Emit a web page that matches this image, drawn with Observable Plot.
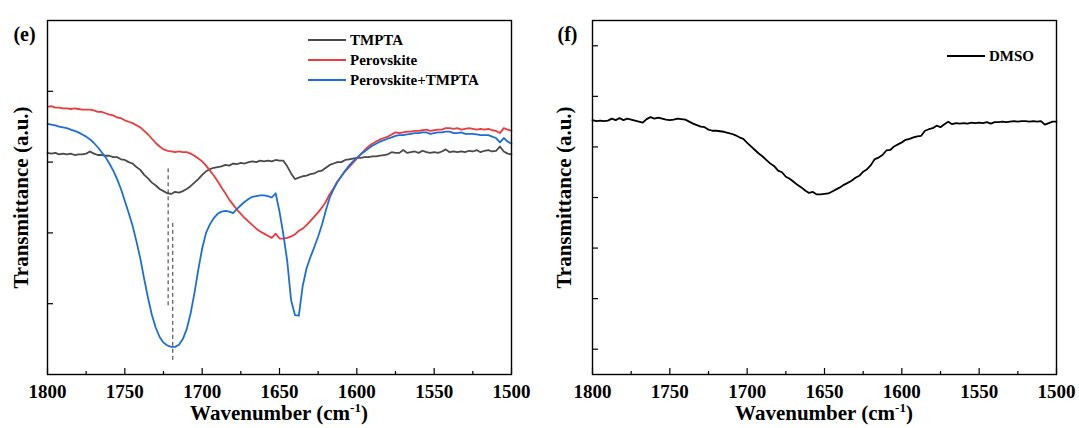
<!DOCTYPE html>
<html><head><meta charset="utf-8">
<script src="https://cdn.jsdelivr.net/npm/d3@7"></script>
<script src="https://cdn.jsdelivr.net/npm/@observablehq/plot@0.6"></script>
<style>
body{margin:0;background:#fff;}
#wrap{display:flex;width:1079px;height:428px;}
#wrap svg, #wrap svg text{font-family:"Liberation Serif","Times New Roman",serif !important;}
</style></head><body><div id="wrap"></div>
<script>
// ---- data (transmittance in arbitrary units) ----
const wavenumbers = [
1800,1797.5,1795,1792.5,1790,1787.5,1785,1782.5,1780,1777.5,
1775,1772.5,1770,1767.5,1765,1762.5,1760,1757.5,1755,1752.5,
1750,1747.5,1745,1742.5,1740,1737.5,1735,1732.5,1730,1727.5,
1725,1722.5,1720,1717.5,1715,1712.5,1710,1707.5,1705,1702.5,
1700,1697.5,1695,1692.5,1690,1687.5,1685,1682.5,1680,1677.5,
1675,1672.5,1670,1667.5,1665,1662.5,1660,1657.5,1655,1652.5,
1650,1647.5,1645,1642.5,1640,1637.5,1635,1632.5,1630,1627.5,
1625,1622.5,1620,1617.5,1615,1612.5,1610,1607.5,1605,1602.5,
1600,1597.5,1595,1592.5,1590,1587.5,1585,1582.5,1580,1577.5,
1575,1572.5,1570,1567.5,1565,1562.5,1560,1557.5,1555,1552.5,
1550,1547.5,1545,1542.5,1540,1537.5,1535,1532.5,1530,1527.5,
1525,1522.5,1520,1517.5,1515,1512.5,1510,1507.5,1505,1502.5,
1500];
const tmpta = [
3.13,3.12,3.13,3.11,3.12,3.11,3.12,3.10,3.11,3.11,
3.12,3.15,3.12,3.10,3.10,3.09,3.09,3.07,3.07,3.04,
3.03,3.00,2.98,2.93,2.89,2.82,2.77,2.71,2.67,2.62,
2.59,2.56,2.55,2.58,2.57,2.59,2.62,2.66,2.71,2.76,
2.82,2.87,2.90,2.92,2.93,2.94,2.96,2.95,2.98,2.97,
2.99,2.98,3.00,3.01,3.00,3.02,3.01,3.02,3.01,3.03,
3.02,3.02,2.94,2.84,2.76,2.78,2.80,2.81,2.83,2.84,
2.87,2.88,2.92,2.96,2.98,3.00,3.00,3.03,3.04,3.05,
3.06,3.06,3.07,3.07,3.08,3.08,3.09,3.10,3.11,3.14,
3.13,3.13,3.17,3.13,3.14,3.15,3.13,3.16,3.14,3.13,
3.14,3.13,3.15,3.18,3.14,3.15,3.14,3.15,3.14,3.16,
3.15,3.17,3.14,3.16,3.17,3.15,3.16,3.22,3.15,3.12,
3.11];
const perovskite = [
3.78,3.79,3.77,3.77,3.76,3.76,3.75,3.76,3.75,3.74,
3.74,3.74,3.73,3.71,3.71,3.69,3.67,3.66,3.63,3.62,
3.59,3.57,3.55,3.52,3.49,3.44,3.39,3.33,3.27,3.22,
3.18,3.16,3.15,3.14,3.15,3.14,3.14,3.12,3.09,3.05,
3.01,2.95,2.88,2.81,2.73,2.64,2.56,2.47,2.40,2.33,
2.27,2.21,2.16,2.11,2.06,2.02,1.99,1.96,1.93,1.99,
1.92,1.92,1.93,1.95,1.98,2.03,2.06,2.11,2.17,2.23,
2.29,2.36,2.44,2.55,2.63,2.73,2.80,2.87,2.93,2.99,
3.05,3.11,3.17,3.22,3.26,3.29,3.32,3.34,3.36,3.39,
3.42,3.41,3.42,3.43,3.43,3.44,3.44,3.45,3.46,3.44,
3.45,3.46,3.46,3.48,3.48,3.47,3.48,3.46,3.47,3.48,
3.47,3.46,3.47,3.46,3.47,3.45,3.44,3.41,3.48,3.46,
3.44];
const perovskiteTmpta = [
3.54,3.53,3.52,3.50,3.49,3.48,3.46,3.44,3.42,3.39,
3.36,3.32,3.27,3.21,3.14,3.07,2.98,2.88,2.76,2.62,
2.45,2.28,2.10,1.88,1.64,1.35,1.08,0.84,0.66,0.53,
0.45,0.41,0.39,0.39,0.42,0.50,0.64,0.86,1.15,1.48,
1.78,2.00,2.12,2.21,2.27,2.30,2.31,2.30,2.28,2.34,
2.39,2.44,2.48,2.51,2.52,2.53,2.53,2.52,2.50,2.56,
2.30,1.98,1.60,1.05,0.84,0.83,1.25,1.50,1.66,1.80,
1.95,2.12,2.32,2.50,2.62,2.72,2.80,2.88,2.95,3.01,
3.06,3.11,3.15,3.19,3.23,3.26,3.29,3.31,3.33,3.35,
3.37,3.38,3.38,3.39,3.40,3.41,3.41,3.42,3.42,3.40,
3.41,3.42,3.42,3.43,3.43,3.41,3.41,3.42,3.40,3.40,
3.40,3.39,3.38,3.38,3.38,3.36,3.34,3.28,3.34,3.29,
3.26];
const dmso = [
5.53,5.51,5.52,5.51,5.52,5.56,5.53,5.57,5.53,5.56,
5.54,5.52,5.50,5.48,5.55,5.59,5.56,5.58,5.56,5.54,
5.53,5.54,5.56,5.55,5.54,5.50,5.46,5.43,5.40,5.39,
5.34,5.32,5.32,5.31,5.30,5.28,5.26,5.23,5.19,5.16,
5.08,5.01,4.94,4.87,4.81,4.74,4.67,4.62,4.53,4.50,
4.41,4.37,4.31,4.25,4.20,4.14,4.09,4.11,4.06,4.06,
4.07,4.08,4.12,4.16,4.20,4.25,4.29,4.33,4.39,4.43,
4.51,4.56,4.64,4.76,4.79,4.84,4.93,4.94,5.01,5.05,
5.09,5.14,5.16,5.19,5.21,5.22,5.32,5.35,5.37,5.42,
5.39,5.45,5.50,5.45,5.47,5.46,5.47,5.46,5.48,5.47,
5.48,5.47,5.49,5.46,5.49,5.49,5.50,5.49,5.50,5.51,
5.50,5.51,5.51,5.50,5.51,5.50,5.51,5.44,5.47,5.50,
5.50];
const seriesNames = ["TMPTA", "Perovskite", "Perovskite+TMPTA"];
const seriesColors = ["#4a4a4a", "#ec3b3b", "#1b6fdb"];
const dmsoName = "DMSO";
const xTicks = [1800, 1750, 1700, 1650, 1600, 1550, 1500];
const xMinorTicks = [1775, 1725, 1675, 1625, 1575, 1525];
const yTicksE = [1, 2, 3, 4];
const yTicksF = [1, 2, 3, 4, 5, 6, 7];
const dashedMarkers = [{wn: 1722, t1: 0.97, t2: 2.93}, {wn: 1719, t1: 0.20, t2: 2.18}];

// ---- build ----
const H = 428, MT = 20, MB = 54;
const seriesValues = [tmpta, perovskite, perovskiteTmpta];
const rowsE = seriesNames.flatMap((name, i) => seriesValues[i].map((v, j) => ({wn: wavenumbers[j], t: v, series: name})));
const rowsF = dmso.map((v, j) => ({wn: wavenumbers[j], t: v}));

function panel({width, ml, mr, yDomain, yTicks, label, titleX, labelX, curves, legend}) {
  const fw = width - ml - mr, fh = H - MT - MB;
  const chart = Plot.plot({
    width, height: H, marginLeft: ml, marginRight: mr, marginTop: MT, marginBottom: MB,
    style: {fontSize: "19px", fontWeight: "bold", color: "black", background: "white"},
    x: {domain: [1800, 1500], ticks: xTicks, tickSize: 0, tickPadding: 10, tickFormat: d => String(d), label: null},
    y: {domain: yDomain, axis: null},
    color: {domain: seriesNames, range: seriesColors},
    marks: [
      ...curves,
      Plot.tickX(xTicks, {x: d => d, insetTop: fh - 6, stroke: "black", strokeWidth: 1.2}),
      Plot.tickX(xMinorTicks, {x: d => d, insetTop: fh - 3, stroke: "black", strokeWidth: 1.2}),
      Plot.tickY(yTicks, {y: d => d, insetRight: fw - 6, stroke: "black", strokeWidth: 1.2}),
      Plot.frame({stroke: "black", strokeWidth: 1.4}),
      Plot.text(["Transmittance (a.u.)"], {text: d => d, frameAnchor: "left", dx: titleX - ml, rotate: -90, textAnchor: "middle", fontSize: 21, fontWeight: "bold"}),
      Plot.text([label], {text: d => d, frameAnchor: "top-left", dx: labelX - ml, dy: 6, textAnchor: "middle", fontSize: 20, fontWeight: "bold"})
    ]
  });
  const svg = d3.select(chart);
  // x-axis title with superscript
  const t = svg.append("text").attr("x", ml + fw / 2).attr("y", 420).attr("text-anchor", "middle")
    .attr("font-size", 21).attr("font-weight", "bold").attr("fill", "black");
  t.append("tspan").text("Wavenumber (cm");
  t.append("tspan").attr("dy", -8).attr("font-size", 13).text("-1");
  t.append("tspan").attr("dy", 8).text(")");
  // legend
  const lg = svg.append("g").attr("font-size", 15).attr("font-weight", "bold").attr("text-anchor", "start");
  legend.items.forEach((it, i) => {
    const y = legend.y + i * 20;
    lg.append("line").attr("x1", legend.x).attr("x2", legend.x + 38).attr("y1", y).attr("y2", y)
      .attr("stroke", it.color).attr("stroke-width", 2);
    lg.append("text").attr("x", legend.x + 42).attr("y", y + 5).attr("fill", "black").text(it.name);
  });
  return chart;
}

const left = panel({
  width: 540, ml: 47, mr: 29, yDomain: [0, 5], yTicks: yTicksE, label: "(e)", titleX: 20.5, labelX: 24,
  curves: [
    Plot.ruleX(dashedMarkers, {x: "wn", y1: "t1", y2: "t2", stroke: "#333", strokeWidth: 1, strokeDasharray: "4,3"}),
    Plot.line(rowsE, {x: "wn", y: "t", z: "series", stroke: "series", strokeWidth: 1.8})
  ],
  legend: {x: 308, y: 40, items: seriesNames.map((n, i) => ({name: n, color: seriesColors[i]}))}
});
const right = panel({
  width: 539, ml: 52, mr: 23, yDomain: [0.5, 7.5], yTicks: yTicksF, label: "(f)", titleX: 24, labelX: 27,
  curves: [Plot.line(rowsF, {x: "wn", y: "t", stroke: "black", strokeWidth: 1.8})],
  legend: {x: 407, y: 56, items: [{name: dmsoName, color: "black"}]}
});
document.getElementById("wrap").append(left, right);
</script></body></html>
